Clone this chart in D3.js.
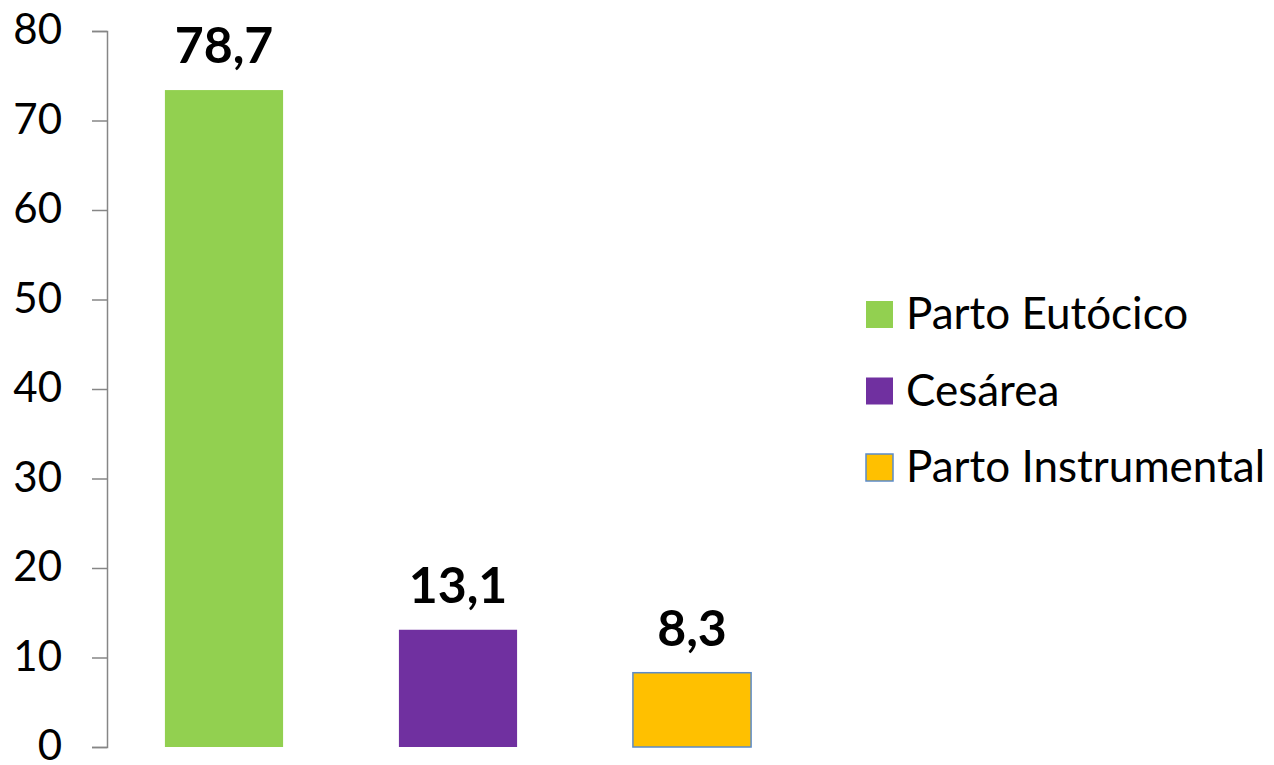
<!DOCTYPE html>
<html>
<head>
<meta charset="utf-8">
<script src="https://cdn.jsdelivr.net/npm/d3@7"></script>
<style>
  body { margin: 0; background: #fff; }
  svg { display: block; font-family: Lato, "Open Sans", sans-serif; }
</style>
</head>
<body>
<svg id="chart" width="1274" height="765"></svg>
<script>
// Data
var categories = ["Parto Eutócico", "Cesárea", "Parto Instrumental"];
var barValues = [73.4, 13.1, 8.3];          // drawn heights
var barLabels = ["78,7", "13,1", "8,3"];    // printed labels
var colors = ["#92D050", "#7030A0", "#FFC000"];
var strokes = [null, null, "#5B8BC9"];
var yTicks = [0, 10, 20, 30, 40, 50, 60, 70, 80];

var svg = d3.select("#chart");

var x = d3.scaleBand()
  .domain(categories)
  .range([107, 809])
  .paddingInner(0.495)
  .paddingOuter(0.2475);

var y = d3.scaleLinear()
  .domain([0, 80])
  .range([747, 31]);

// Y axis
var yAxis = svg.append("g")
  .attr("transform", "translate(107,0)")
  .call(d3.axisLeft(y).tickValues(yTicks).tickSize(15).tickPadding(30).tickSizeOuter(15));
yAxis.select(".domain").attr("stroke", "#868686").attr("stroke-width", 1.5);
yAxis.selectAll(".tick line").attr("stroke", "#868686").attr("stroke-width", 1.5);
yAxis.selectAll(".tick text")
  .attr("fill", "#000")
  .attr("dy", "0.3em")
  .style("font-family", "Lato, sans-serif")
  .style("font-size", "42px");

// Bars
var data = categories.map(function(c, i) {
  return { cat: c, value: barValues[i], label: barLabels[i], color: colors[i], stroke: strokes[i] };
});

svg.append("g").selectAll("rect").data(data).enter()
  .append("rect")
  .attr("x", function(d) { return x(d.cat); })
  .attr("y", function(d) { return y(d.value); })
  .attr("width", x.bandwidth())
  .attr("height", function(d) { return y(0) - y(d.value); })
  .attr("fill", function(d) { return d.color; })
  .attr("stroke", function(d) { return d.stroke || "none"; })
  .attr("stroke-width", 1.5);

// Bar labels
svg.append("g").selectAll("text").data(data).enter()
  .append("text")
  .attr("x", function(d) { return x(d.cat) + x.bandwidth() / 2; })
  .attr("y", function(d) { return y(d.value) - 27; })
  .attr("text-anchor", "middle")
  .style("font-weight", "bold")
  .style("font-size", "50px")
  .text(function(d) { return d.label; });

// Legend
var legend = svg.append("g").selectAll("g").data(data).enter()
  .append("g")
  .attr("transform", function(d, i) { return "translate(866," + (301 + i * 76.5) + ")"; });

legend.append("rect")
  .attr("width", 27)
  .attr("height", 27)
  .attr("fill", function(d) { return d.color; })
  .attr("stroke", function(d) { return d.stroke || "none"; })
  .attr("stroke-width", 1.5);

legend.append("text")
  .attr("x", 40)
  .attr("y", 28)
  .style("font-size", "44px")
  .text(function(d) { return d.cat; });
</script>
</body>
</html>
